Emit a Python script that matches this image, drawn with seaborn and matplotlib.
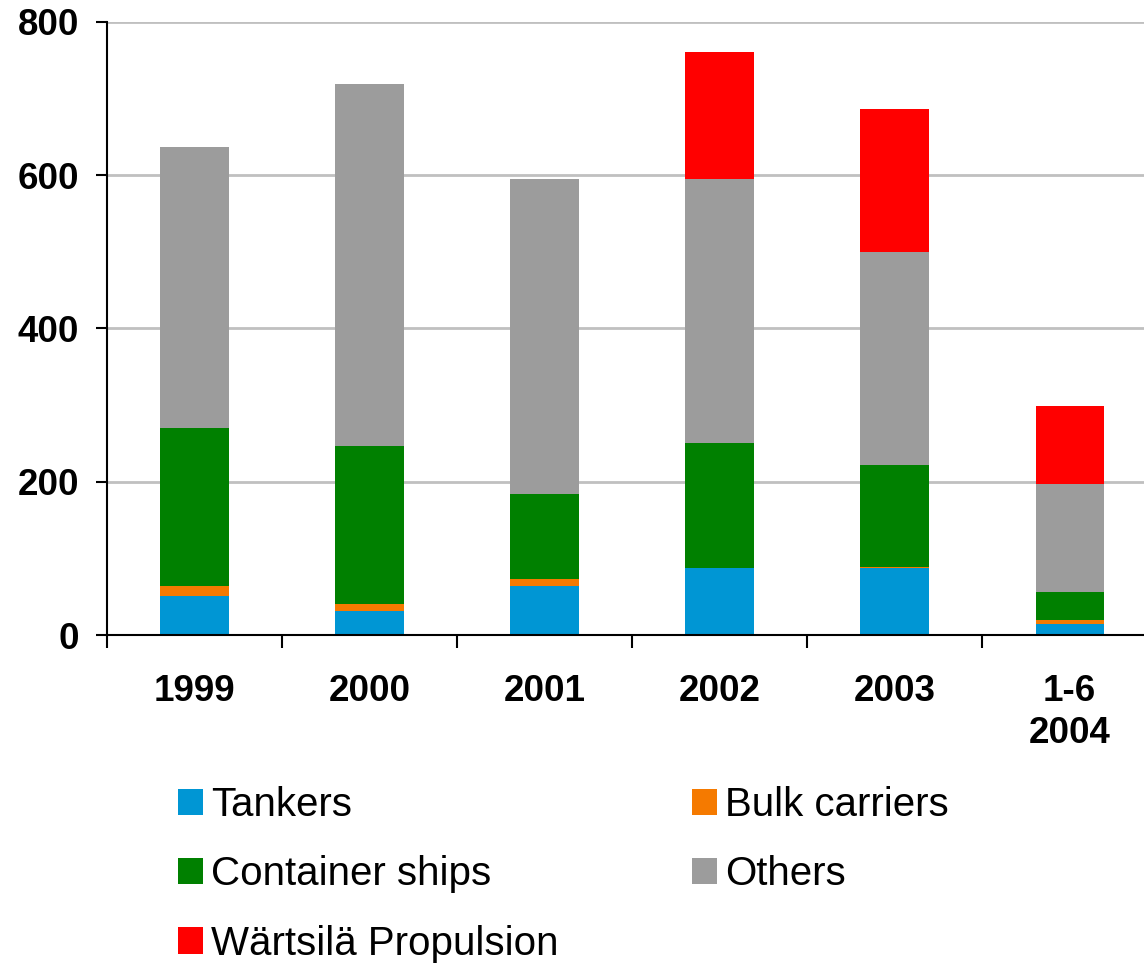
import matplotlib
matplotlib.use("Agg")
import matplotlib.pyplot as plt
import seaborn as sns
import numpy as np
from matplotlib.patches import Patch
from matplotlib.ticker import FixedLocator

# dados
anos = ["1999", "2000", "2001", "2002", "2003", "1-6\n2004"]
tankers = [51, 32, 64, 88, 87, 15]
bulk = [13, 9, 9, 0, 2, 4]
container = [206, 206, 111, 163, 133, 37]
others = [367, 472, 411, 344, 278, 141]
wartsila = [0, 0, 0, 166, 187, 102]

series = ["Tankers", "Bulk carriers", "Container ships", "Others", "Wärtsilä Propulsion"]
valores = [tankers, bulk, container, others, wartsila]
cores = ["#0096D4", "#F57A00", "#008000", "#9C9C9C", "#FF0000"]

sns.set_style("white")
plt.rcParams["font.family"] = ["Liberation Sans", "DejaVu Sans"]
plt.rcParams["text.color"] = "black"
plt.rcParams["xtick.color"] = "black"
plt.rcParams["ytick.color"] = "black"

fig = plt.figure(figsize=(11.44, 9.67), dpi=100)
ax = fig.add_axes([0.0935, 0.3433, 0.918, 0.634])

base = np.zeros(len(anos))
for nome, vals, cor in zip(series, valores, cores):
    sns.barplot(x=anos, y=vals, bottom=base, color=cor, width=0.39,
                order=anos, ax=ax, linewidth=0, saturation=1)
    base = base + np.array(vals)

ax.set_xlim(-0.5, 5.5)
ax.set_ylim(0, 800)
ax.set_yticks([0, 200, 400, 600, 800])
ax.yaxis.grid(True, color="#C0C0C0", linewidth=2)
ax.set_axisbelow(True)

for s in ["top", "right"]:
    ax.spines[s].set_visible(False)
for s in ["left", "bottom"]:
    ax.spines[s].set_color("black")
    ax.spines[s].set_linewidth(1.5)

ax.tick_params(axis="y", direction="out", length=8, width=1.5, color="black",
               labelsize=26.5, pad=12, left=True, labelcolor="black")
ax.tick_params(axis="x", which="major", length=0, labelsize=26.5, pad=28,
               labelcolor="black")
ax.xaxis.set_minor_locator(FixedLocator(np.arange(-0.5, 6, 1)))
ax.tick_params(axis="x", which="minor", direction="out", length=9, width=1.5,
               color="black", bottom=True)
for t in ax.get_yticklabels():
    t.set_fontweight("bold")
for t in ax.get_xticklabels():
    t.set_fontweight("bold")
    t.set_linespacing(1.25)
ax.set_xlabel("")
ax.set_ylabel("")

# legenda
handles = [Patch(facecolor=c, edgecolor="none") for c in cores]
ordem = [0, 2, 4, 1, 3]
fig.legend([handles[i] for i in ordem], [series[i] for i in ordem],
           loc="upper left", bbox_to_anchor=(178 / 1144, 1 - 786 / 967),
           ncol=2, frameon=False, fontsize=29, handlelength=0.63,
           handleheight=0.63, handletextpad=0.2, columnspacing=3.3,
           labelspacing=0.78, borderpad=0, borderaxespad=0)

fig.savefig("out.png", dpi=100)
